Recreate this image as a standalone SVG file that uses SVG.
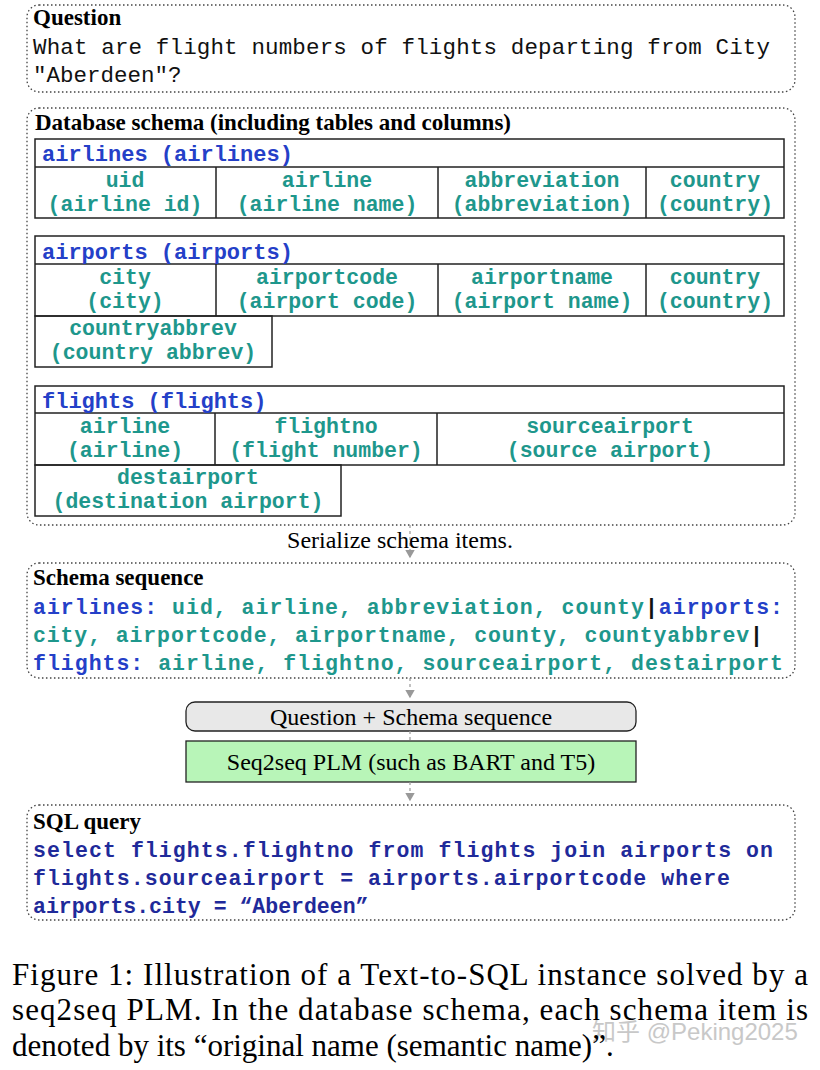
<svg xmlns="http://www.w3.org/2000/svg" width="820" height="1070" viewBox="0 0 820 1070">
<style>
.box{fill:none;stroke:#444;stroke-width:1.3;stroke-dasharray:1.5 2.5}
.tb{fill:none;stroke:#222;stroke-width:1.5}
.h{font-family:"Liberation Serif",serif;font-weight:bold;font-size:23px;fill:#000}
.m{font-family:"Liberation Mono",monospace;font-size:22.5px;fill:#111}
.t{font-family:"Liberation Mono",monospace;font-weight:bold;font-size:21.5px;fill:#1e978c;text-anchor:middle}
.b{font-family:"Liberation Mono",monospace;font-weight:bold;font-size:22px;fill:#2440c8}
.s{font-family:"Liberation Mono",monospace;font-weight:bold;font-size:21.5px}
.tc{fill:#1e978c}.bc{fill:#2440c8}
.q{font-family:"Liberation Mono",monospace;font-weight:bold;font-size:21.5px;fill:#1f2a9a}
.r{font-family:"Liberation Serif",serif;font-size:24px;fill:#000;text-anchor:middle}
.cap{font-family:"Liberation Serif",serif;font-size:31px;fill:#000}
.c{stroke:#999;stroke-width:1.2;stroke-dasharray:3 3;fill:none}
</style>
<defs><marker id="a" markerWidth="8" markerHeight="8" refX="6" refY="4" orient="auto"><path d="M0,0L7,4L0,8Z" fill="#999"/></marker></defs>
<g id="question">
<rect class="box" x="27" y="5" width="768" height="87" rx="12"/>
<text class="h" x="33" y="25">Question</text>
<text class="m" x="33" y="54" textLength="737">What are flight numbers of flights departing from City</text>
<text class="m" x="33" y="82">"Aberdeen"?</text>
</g>
<g id="schema">
<rect class="box" x="27" y="108" width="768" height="417" rx="12"/>
<text class="h" x="35" y="130">Database schema (including tables and columns)</text>
<rect class="tb" x="35" y="139" width="749" height="79"/>
<path class="tb" d="M35,167H784M216,167V218M438,167V218M646,167V218"/>
<text class="b" x="42" y="161">airlines (airlines)</text>
<text class="t" x="125" y="187">uid</text><text class="t" x="125" y="211">(airline id)</text>
<text class="t" x="327" y="187">airline</text><text class="t" x="327" y="211">(airline name)</text>
<text class="t" x="542" y="187">abbreviation</text><text class="t" x="542" y="211">(abbreviation)</text>
<text class="t" x="715" y="187">country</text><text class="t" x="715" y="211">(country)</text>
<rect class="tb" x="35" y="236" width="749" height="80"/>
<rect class="tb" x="35" y="316" width="237" height="51"/>
<path class="tb" d="M35,264H784M216,264V316M438,264V316M646,264V316"/>
<text class="b" x="42" y="259">airports (airports)</text>
<text class="t" x="125" y="284">city</text><text class="t" x="125" y="308">(city)</text>
<text class="t" x="327" y="284">airportcode</text><text class="t" x="327" y="308">(airport code)</text>
<text class="t" x="542" y="284">airportname</text><text class="t" x="542" y="308">(airport name)</text>
<text class="t" x="715" y="284">country</text><text class="t" x="715" y="308">(country)</text>
<text class="t" x="153" y="335">countryabbrev</text><text class="t" x="153" y="359">(country abbrev)</text>
<rect class="tb" x="35" y="386" width="749" height="79"/>
<rect class="tb" x="35" y="465" width="306" height="51"/>
<path class="tb" d="M35,413H784M215,413V465M437,413V465"/>
<text class="b" x="42" y="408">flights (flights)</text>
<text class="t" x="125" y="433">airline</text><text class="t" x="125" y="457">(airline)</text>
<text class="t" x="326" y="433">flightno</text><text class="t" x="326" y="457">(flight number)</text>
<text class="t" x="610" y="433">sourceairport</text><text class="t" x="610" y="457">(source airport)</text>
<text class="t" x="188" y="484">destairport</text><text class="t" x="188" y="508">(destination airport)</text>
</g>
<g id="sequence">
<rect class="box" x="27" y="563" width="768" height="115" rx="12"/>
<text class="h" x="33" y="585">Schema sequence</text>
<text class="s" x="33" y="614" textLength="750"><tspan class="bc">airlines:</tspan><tspan class="tc"> uid, airline, abbreviation, county</tspan><tspan fill="#111">|</tspan><tspan class="bc">airports:</tspan></text>
<text class="s" x="33" y="642" textLength="730"><tspan class="tc">city, airportcode, airportname, county, countyabbrev</tspan><tspan fill="#111">|</tspan></text>
<text class="s" x="33" y="670" textLength="750"><tspan class="bc">flights:</tspan><tspan class="tc"> airline, flightno, sourceairport, destairport</tspan></text>
</g>
<g id="input">
<rect x="186" y="702" width="450" height="29" rx="9" fill="#e8e8e8" stroke="#222" stroke-width="1.3"/>
<text class="r" x="411" y="725">Question + Schema sequence</text>
</g>
<g id="plm">
<rect x="186" y="741" width="450" height="41" fill="#b8f5b8" stroke="#222" stroke-width="1.3"/>
<text class="r" x="411" y="770">Seq2seq PLM (such as BART and T5)</text>
</g>
<g id="sql">
<rect class="box" x="27" y="805" width="768" height="115" rx="12"/>
<text class="h" x="33" y="829">SQL query</text>
<text class="q" x="33" y="857" textLength="740">select flights.flightno from flights join airports on</text>
<text class="q" x="33" y="885" textLength="697">flights.sourceairport = airports.airportcode where</text>
<text class="q" x="33" y="913">airports.city = “Aberdeen”</text>
</g>
<g id="connectors">
<path class="c" d="M410,525V557" marker-end="url(#a)"/>
<text class="r" x="400" y="548" font-size="22">Serialize schema items.</text>
<path class="c" d="M410,678V697" marker-end="url(#a)"/>
<path class="c" d="M410,731V741"/>
<path class="c" d="M410,782V800" marker-end="url(#a)"/>
</g>
<g id="caption">
<text x="592" y="1040" font-family="Liberation Sans,Noto Sans CJK SC,sans-serif" font-size="24" fill="#bbb" opacity="0.8">知乎 @Peking2025</text>
<text class="cap" x="12" y="985" textLength="796">Figure 1:  Illustration of a Text-to-SQL instance solved by a</text>
<text class="cap" x="12" y="1020" textLength="796">seq2seq PLM. In the database schema, each schema item is</text>
<text class="cap" x="12" y="1056">denoted by its “original name (semantic name)”.</text>
</g>
</svg>
